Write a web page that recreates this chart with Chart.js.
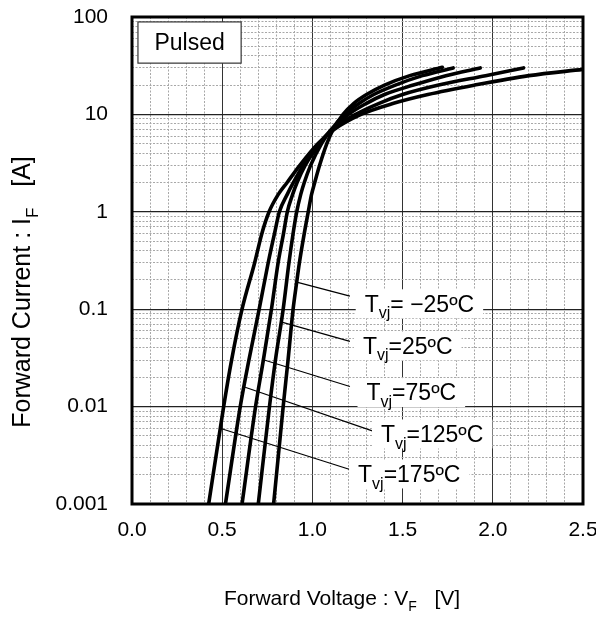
<!DOCTYPE html>
<html>
<head>
<meta charset="utf-8">
<script src="https://cdn.jsdelivr.net/npm/chart.js@4.4.1/dist/chart.umd.min.js"></script>
<style>
body { margin: 0; background: #fff; }
</style>
</head>
<body>
<canvas id="vfChart" width="596" height="618"></canvas>
<script>
// forward voltage [V] / forward current [A]
const voltM25 = [0.785, 0.838, 0.865, 0.893, 0.913, 0.928, 0.955, 0.977, 0.995, 1.013, 1.04, 1.08, 1.115, 1.17, 1.23, 1.3, 1.4, 1.54, 1.72];
const currM25 = [0.001, 0.01, 0.03, 0.1, 0.19, 0.3, 0.6, 1, 1.5, 2, 3, 5, 7, 10, 13, 16, 20, 25, 30.5];
const volt25 = [0.70, 0.762, 0.795, 0.838, 0.87, 0.893, 0.913, 0.935, 0.955, 0.99, 1.05, 1.105, 1.18, 1.26, 1.34, 1.46, 1.61, 1.78];
const curr25 = [0.001, 0.01, 0.03, 0.1, 0.3, 0.6, 1, 1.5, 2, 3, 5, 7, 10, 13, 16, 20, 25, 30];
const volt75 = [0.61, 0.685, 0.728, 0.773, 0.81, 0.84, 0.861, 0.89, 0.915, 0.96, 1.04, 1.105, 1.2, 1.3, 1.4, 1.56, 1.74, 1.93];
const curr75 = [0.001, 0.01, 0.03, 0.1, 0.3, 0.6, 1, 1.5, 2, 3, 5, 7, 10, 13, 16, 20, 25, 30];
const volt125 = [0.518, 0.60, 0.648, 0.705, 0.755, 0.79, 0.817, 0.86, 0.895, 0.95, 1.04, 1.11, 1.24, 1.37, 1.5, 1.7, 1.96, 2.17];
const curr125 = [0.001, 0.01, 0.03, 0.1, 0.3, 0.6, 1, 1.5, 2, 3, 5, 7, 10, 13, 16, 20, 25, 30];
const volt175 = [0.425, 0.508, 0.552, 0.61, 0.68, 0.72, 0.76, 0.81, 0.86, 0.93, 1.03, 1.12, 1.27, 1.45, 1.64, 1.9, 2.2, 2.5];
const curr175 = [0.001, 0.01, 0.03, 0.1, 0.3, 0.6, 1, 1.5, 2, 3, 5, 7, 10, 13, 16, 20, 25, 29];

const curveVolts = [voltM25, volt25, volt75, volt125, volt175];
const curveCurrs = [currM25, curr25, curr75, curr125, curr175];

// ticks
const xTickValues = [0, 0.5, 1.0, 1.5, 2.0, 2.5];
const yTickValues = [0.001, 0.01, 0.1, 1, 10, 100];
const yTickLabels = ['0.001', '0.01', '0.1', '1', '10', '100'];

// temperature labels
const tempTexts = ['= \u221225\u00baC', '=25\u00baC', '=75\u00baC', '=125\u00baC', '=175\u00baC'];

// leader lines and label anchors, in data units (V, A)
const leadFromV = [0.913, 0.83, 0.728, 0.615, 0.488];
const leadFromI = [0.19, 0.0738, 0.0303, 0.0161, 0.0060];
const leadToV = [1.208, 1.208, 1.208, 1.336, 1.208];
const leadToI = [0.136, 0.0468, 0.0161, 0.0056, 0.00226];
const labelV = [1.29, 1.28, 1.30, 1.38, 1.253];
const labelI = [0.115, 0.0426, 0.0141, 0.0053, 0.00206];

const FONT = '"Liberation Sans", Arial, Helvetica, sans-serif';

const xMinorTicks = [];
for (let k = 1; k < 25; k++) {
    if (k % 5 !== 0) xMinorTicks.push(k / 10);
}
const yMinorTicks = [];
for (let e = -3; e <= 1; e++) {
    for (let m = 2; m <= 9; m++) yMinorTicks.push(m * Math.pow(10, e));
}

const datasets = [];
for (let c = 0; c < curveVolts.length; c++) {
    datasets.push({
        data: curveVolts[c].map((v, i) => ({ x: v, y: curveCurrs[c][i] })),
        borderColor: '#000',
        borderWidth: 3.6,
        pointRadius: 0,
        cubicInterpolationMode: 'monotone',
        borderCapStyle: 'round',
        borderJoinStyle: 'round',
        fill: false
    });
}
for (let c = 0; c < leadFromV.length; c++) {
    datasets.push({
        data: [{ x: leadFromV[c], y: leadFromI[c] }, { x: leadToV[c], y: leadToI[c] }],
        borderColor: '#000',
        borderWidth: 1.2,
        pointRadius: 0,
        fill: false
    });
}

// text with one subscript part: [before, sub, after]
function drawSubText(ctx, x, y, parts, size, align) {
    const subSize = Math.round(size * 0.68);
    ctx.font = size + 'px ' + FONT;
    const w1 = ctx.measureText(parts[0]).width;
    const w3 = ctx.measureText(parts[2]).width;
    ctx.font = subSize + 'px ' + FONT;
    const w2 = ctx.measureText(parts[1]).width;
    const total = w1 + w2 + w3;
    let x0 = align === 'center' ? x - total / 2 : x;
    const base = y + size * 0.36;
    ctx.textAlign = 'left';
    ctx.textBaseline = 'alphabetic';
    ctx.font = size + 'px ' + FONT;
    ctx.fillText(parts[0], x0, base);
    ctx.font = subSize + 'px ' + FONT;
    ctx.fillText(parts[1], x0 + w1, base + size * 0.3);
    ctx.font = size + 'px ' + FONT;
    ctx.fillText(parts[2], x0 + w1 + w2, base);
    return total;
}

const decorations = {
    id: 'decorations',
    afterDatasetsDraw(chart) {
        const { ctx, scales: { x, y } } = chart;
        ctx.save();
        ctx.fillStyle = '#000';
        for (let c = 0; c < labelV.length; c++) {
            const px = x.getPixelForValue(labelV[c]);
            const py = y.getPixelForValue(labelI[c]);
            const parts = ['T', 'vj', tempTexts[c]];
            ctx.font = '23px ' + FONT;
            let w = ctx.measureText('T').width + ctx.measureText(tempTexts[c]).width;
            ctx.font = '16px ' + FONT;
            w += ctx.measureText('vj').width;
            ctx.fillStyle = '#fff';
            ctx.fillRect(px - 9, py - 14, w + 18, 29);
            ctx.fillStyle = '#000';
            drawSubText(ctx, px, py, parts, 23, 'left');
        }
        // Pulsed box
        const bx = x.getPixelForValue(0.033), bx2 = x.getPixelForValue(0.605);
        const by = y.getPixelForValue(89), by2 = y.getPixelForValue(33.6);
        ctx.fillStyle = '#fff';
        ctx.fillRect(bx, by, bx2 - bx, by2 - by);
        ctx.strokeStyle = '#333';
        ctx.lineWidth = 1.2;
        ctx.strokeRect(bx, by, bx2 - bx, by2 - by);
        ctx.fillStyle = '#000';
        ctx.font = '23px ' + FONT;
        ctx.textAlign = 'center';
        ctx.textBaseline = 'middle';
        ctx.fillText('Pulsed', (bx + bx2) / 2, (by + by2) / 2 + 1);
        ctx.restore();
    },
    afterDraw(chart) {
        const { ctx, chartArea: a } = chart;
        ctx.save();
        ctx.strokeStyle = '#000';
        ctx.lineWidth = 3;
        ctx.strokeRect(a.left, a.top, a.right - a.left, a.bottom - a.top);
        ctx.fillStyle = '#000';
        drawSubText(ctx, 342, 597, ['Forward Voltage : V', 'F', '   [V]'], 21, 'center');
        ctx.translate(21, 292);
        ctx.rotate(-Math.PI / 2);
        drawSubText(ctx, 0, 0, ['Forward Current : I', 'F', '   [A]'], 25, 'center');
        ctx.restore();
    }
};

function noPad(s) {
    s.paddingTop = 0;
    s.paddingBottom = 0;
    s.paddingLeft = 0;
    s.paddingRight = 0;
}

const config = {
    type: 'line',
    data: { datasets: datasets },
    options: {
        responsive: false,
        animation: false,
        layout: { padding: { top: 17, right: 13, left: 0, bottom: 0 } },
        plugins: { legend: { display: false }, tooltip: { enabled: false } },
        scales: {
            x: {
                type: 'linear', position: 'bottom', min: 0, max: 2.5,
                afterBuildTicks: s => { s.ticks = xTickValues.map(v => ({ value: v })); },
                afterFit: s => { s.height = 114; noPad(s); },
                ticks: {
                    color: '#000', padding: 14, font: { family: FONT, size: 21 },
                    callback: v => v.toFixed(1)
                },
                grid: { color: '#333', lineWidth: 1, drawTicks: false },
                border: { display: false }
            },
            xMinor: {
                type: 'linear', position: 'bottom', min: 0, max: 2.5,
                afterBuildTicks: s => { s.ticks = xMinorTicks.map(v => ({ value: v })); },
                afterFit: s => { s.height = 0; noPad(s); },
                ticks: { display: false },
                grid: { color: '#a8a8a8', lineWidth: 1, drawTicks: false, borderDash: [2, 1.5] },
                border: { display: false, dash: [2, 1.5] }
            },
            y: {
                type: 'logarithmic', position: 'left', min: 0.001, max: 100,
                afterBuildTicks: s => { s.ticks = yTickValues.map(v => ({ value: v })); },
                afterFit: s => { s.width = 132; noPad(s); },
                ticks: {
                    color: '#000', padding: 24, font: { family: FONT, size: 21 },
                    callback: (v, i) => yTickLabels[i]
                },
                grid: { color: '#222', lineWidth: 1.3, drawTicks: false },
                border: { display: false }
            },
            yMinor: {
                type: 'logarithmic', position: 'left', min: 0.001, max: 100,
                afterBuildTicks: s => { s.ticks = yMinorTicks.map(v => ({ value: v })); },
                afterFit: s => { s.width = 0; noPad(s); },
                ticks: { display: false },
                grid: { color: '#a8a8a8', lineWidth: 1, drawTicks: false, borderDash: [2, 1.5] },
                border: { display: false, dash: [2, 1.5] }
            }
        }
    },
    plugins: [decorations]
};

const vfChart = new Chart(document.getElementById('vfChart'), config);
</script>
</body>
</html>
